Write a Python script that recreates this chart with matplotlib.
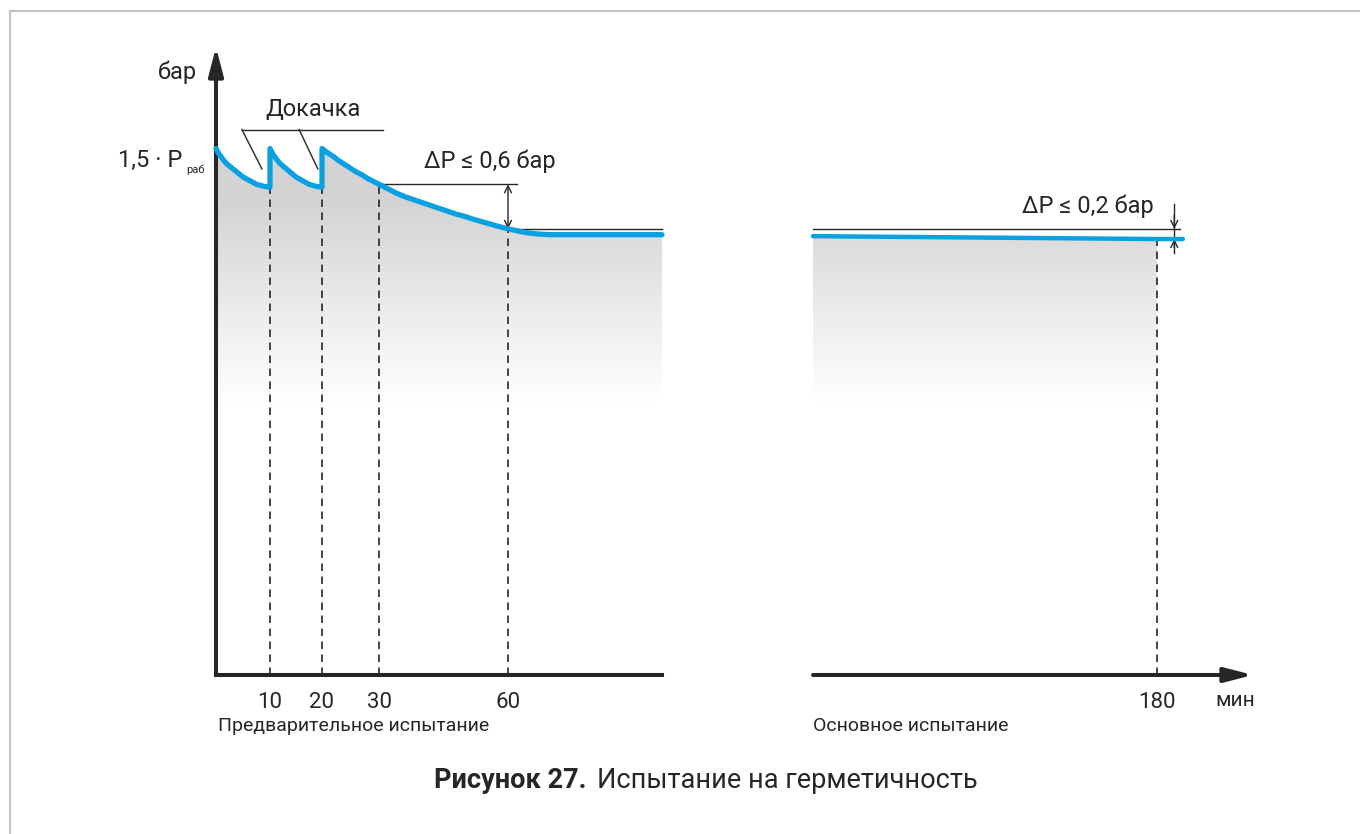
"""
Leak test diagram (Испытание на герметичность):
pre-test with two top-ups, then the main test.
"""

import numpy as np
import matplotlib.pyplot as plt
from matplotlib.lines import Line2D

plt.rcParams['font.family'] = ['Roboto', 'DejaVu Sans']

W, H = 1360, 834
BLUE = '#0aa0e2'
INK = '#262626'

# pre-test pressure, bar vs minutes (three decays, top-ups at 10 and 20 min)
seg1_t = [0, 0.5, 1, 1.5, 2, 2.5, 3, 3.5, 4, 4.5, 5, 5.5, 6, 6.5, 7, 7.5,
          8, 8.5, 9, 9.5, 10]
seg1_p = [7.21, 7.14, 7.09, 7.04, 7.00, 6.97, 6.94, 6.91, 6.88, 6.85, 6.82,
          6.80, 6.78, 6.76, 6.74, 6.72, 6.71, 6.70, 6.69, 6.685, 6.68]
seg2_t = [10, 10.5, 11, 11.5, 12, 12.5, 13, 13.5, 14, 14.5, 15, 15.5, 16,
          16.5, 17, 17.5, 18, 18.5, 19, 19.5, 20]
seg2_p = [7.21, 7.14, 7.09, 7.04, 7.00, 6.97, 6.94, 6.91, 6.88, 6.85, 6.82,
          6.80, 6.78, 6.76, 6.74, 6.72, 6.71, 6.70, 6.69, 6.685, 6.68]
seg3_t = [20, 21, 22, 23, 24, 25, 26, 27, 28, 29, 30, 32, 34, 36, 38, 40,
          42, 44, 46, 48, 50, 52, 55, 58, 60, 62, 64, 66, 68, 70, 96]
seg3_p = [7.21, 7.15, 7.10, 7.04, 6.99, 6.94, 6.89, 6.85, 6.80, 6.76, 6.72,
          6.66, 6.60, 6.55, 6.51, 6.47, 6.43, 6.39, 6.35, 6.31, 6.28, 6.24,
          6.19, 6.14, 6.11, 6.085, 6.06, 6.045, 6.035, 6.03, 6.03]

# main test pressure
main_t = [100, 140, 180, 186]
main_p = [6.01, 5.99, 5.97, 5.97]

# marked times and the pressure there
pre_marks_t = [10, 20, 30, 60]
pre_marks_p = [6.68, 6.68, 6.72, 6.11]
pre_tick_labels = ['10', '20', '30', '60']
main_marks_t = [180]
main_marks_p = [5.97]

# pressure drop limits
dp_pre = (6.72, 6.11)    # between 30 and 60 min
dp_main = (6.11, 5.97)   # over the main test

pre_t = np.array(seg1_t + seg2_t + seg3_t)
pre_p = np.array(seg1_p + seg2_p + seg3_p)

# schematic (non-uniform) time axis of the pre-test
T_KNOTS = [-60, 0, 10, 20, 30, 60, 96, 200]
X_KNOTS = [-324, 0, 54, 106, 163, 292, 446, 893]


def fwd(t):
    return np.interp(t, T_KNOTS, X_KNOTS)


def inv(x):
    return np.interp(x, X_KNOTS, T_KNOTS)


fig = plt.figure(figsize=(W / 100, H / 100), dpi=100)

Y0, Y1 = 675, 47  # pixel rows of the time axis and the arrow tip
YMAX = 8.6


def px_axes(x0, x1):
    ax = fig.add_axes([x0 / W, (H - Y0) / H, (x1 - x0) / W, (Y0 - Y1) / H])
    ax.patch.set_visible(False)
    for s in ax.spines.values():
        s.set_visible(False)
    ax.set_yticks([])
    ax.tick_params(axis='x', length=0, pad=12, labelsize=16, labelcolor=INK)
    return ax


def gradient_fill(ax, t, p):
    poly = ax.fill_between(t, p, 0, color='none', lw=0)
    f = np.linspace(0, 1, 300)
    g = np.interp(f * YMAX, [3.75, 6.5], [1.0, 0.83])
    img = np.dstack([g, g, g]).reshape(300, 1, 3)
    im = ax.imshow(img, extent=(0, 1, 0, 1), transform=ax.transAxes,
                   origin='lower', aspect='auto', interpolation='bilinear',
                   zorder=1)
    im.set_clip_path(poly.get_paths()[0], ax.transData)


def arrow(ax, xy, xytext, style, lw, coords='data', ms=10):
    ax.annotate('', xy=xy, xycoords=coords, xytext=xytext, textcoords=coords,
                arrowprops=dict(arrowstyle=style, lw=lw, color=INK,
                                shrinkA=0, shrinkB=0, mutation_scale=ms),
                annotation_clip=False)


# ---------- pre-test ----------
ax = px_axes(216, 662)
ax.set_xscale('function', functions=(fwd, inv))
ax.set_xlim(0, 96)
ax.set_ylim(0, YMAX)

gradient_fill(ax, pre_t, pre_p)
ax.vlines(pre_marks_t, 0, pre_marks_p, colors=INK, lw=1.2,
          linestyles=(0, (4.5, 3.3)), zorder=2)
ax.plot(pre_t, pre_p, color=BLUE, lw=3.8, solid_capstyle='round',
        solid_joinstyle='round', zorder=4, clip_on=False)

ax.set_xticks(pre_marks_t)
ax.set_xticklabels(pre_tick_labels)

# axes
ax.plot([0, 96], [0, 0], color=INK, lw=2.9, clip_on=False, zorder=5)
arrow(ax, (0, 1), (0, 0), '-|>,head_length=0.85,head_width=0.22', 2.9,
      coords='axes fraction', ms=20)

# top-up leaders
ax.plot([4.8, 30.9], [7.47, 7.47], color=INK, lw=1, clip_on=False)
ax.plot([4.8, 8.5], [7.47, 6.93], color=INK, lw=1)
ax.plot([15.6, 19.2], [7.47, 6.93], color=INK, lw=1)
ax.text(18.3, 7.74, 'Докачка', ha='center', va='center', fontsize=17,
        color=INK)

# pressure drop in the pre-test
ax.plot([30, 62], [dp_pre[0]] * 2, color=INK, lw=1, clip_on=False)
ax.plot([60, 96], [dp_pre[1]] * 2, color=INK, lw=1, clip_on=False)
arrow(ax, (60, dp_pre[1]), (60, dp_pre[0]),
      '<->,head_length=0.5,head_width=0.25', 1)
ax.text(40.5, 7.03, 'ΔP ≤ 0,6 бар', ha='left', va='center', fontsize=17,
        color=INK)

# y labels
ytr = ax.get_yaxis_transform()
ax.annotate('бар', xy=(0, 8.26), xycoords=ytr, xytext=(-19, 0),
            textcoords='offset pixels', ha='right', va='center',
            fontsize=17, color=INK)
ax.annotate('1,5 · P', xy=(0, 7.05), xycoords=ytr, xytext=(-34, 0),
            textcoords='offset pixels', ha='right', va='center',
            fontsize=17, color=INK)
ax.annotate('раб', xy=(0, 6.92), xycoords=ytr, xytext=(-30, 0),
            textcoords='offset pixels', ha='left', va='center',
            fontsize=8, color=INK)
ax.annotate('Предварительное испытание', xy=(0, 0),
            xycoords='axes fraction', xytext=(2, -51),
            textcoords='offset pixels', ha='left', va='center',
            fontsize=14, color=INK)

# ---------- main test ----------
ax2 = px_axes(813, 1253)
ax2.set_xlim(100, 202.3)
ax2.set_ylim(0, YMAX)

gradient_fill(ax2, main_t[:3], main_p[:3])
ax2.vlines(main_marks_t, 0, main_marks_p, colors=INK, lw=1.2,
           linestyles=(0, (4.5, 3.3)), zorder=2)
ax2.plot(main_t, main_p, color=BLUE, lw=3.2, solid_capstyle='round',
         zorder=4, clip_on=False)
ax2.set_xticks(main_marks_t)
ax2.set_xticklabels(['180'])

arrow(ax2, (1, 0), (0, 0), '-|>,head_length=0.85,head_width=0.22', 2.9,
      coords='axes fraction', ms=20)

# pressure drop in the main test
ax2.plot([100, 185.3], [dp_main[0]] * 2, color=INK, lw=1, clip_on=False)
ax2.plot([184, 184], [6.45, 5.78], color=INK, lw=1)
arrow(ax2, (184, dp_main[0]), (184, 6.3), '->,head_length=0.5,head_width=0.25', 1)
arrow(ax2, (184, dp_main[1]), (184, 5.85), '->,head_length=0.5,head_width=0.25', 1)
ax2.text(179.3, 6.42, 'ΔP ≤ 0,2 бар', ha='right', va='center', fontsize=17,
         color=INK)

ax2.annotate('мин', xy=(198.1, 0), xycoords=ax2.get_xaxis_transform(),
             xytext=(0, -25), textcoords='offset pixels', ha='center',
             va='center', fontsize=15, color=INK)
ax2.annotate('Основное испытание', xy=(0, 0), xycoords='axes fraction',
             xytext=(0, -51), textcoords='offset pixels', ha='left',
             va='center', fontsize=14, color=INK)

# ---------- caption and frame ----------
fig.text(587 / W, 1 - 780 / H, 'Рисунок 27.', ha='right', va='center',
         fontsize=19.5, fontweight='bold', color=INK)
fig.text(597 / W, 1 - 780 / H, 'Испытание на герметичность', ha='left',
         va='center', fontsize=19.5, color=INK)

fig.add_artist(Line2D([10 / W, 1], [1 - 11 / H] * 2, color='#c4c4c4', lw=1.5,
                      transform=fig.transFigure))
fig.add_artist(Line2D([10 / W] * 2, [0, 1 - 11 / H], color='#c4c4c4', lw=1.5,
                      transform=fig.transFigure))

fig.savefig('out.png', dpi=100)
